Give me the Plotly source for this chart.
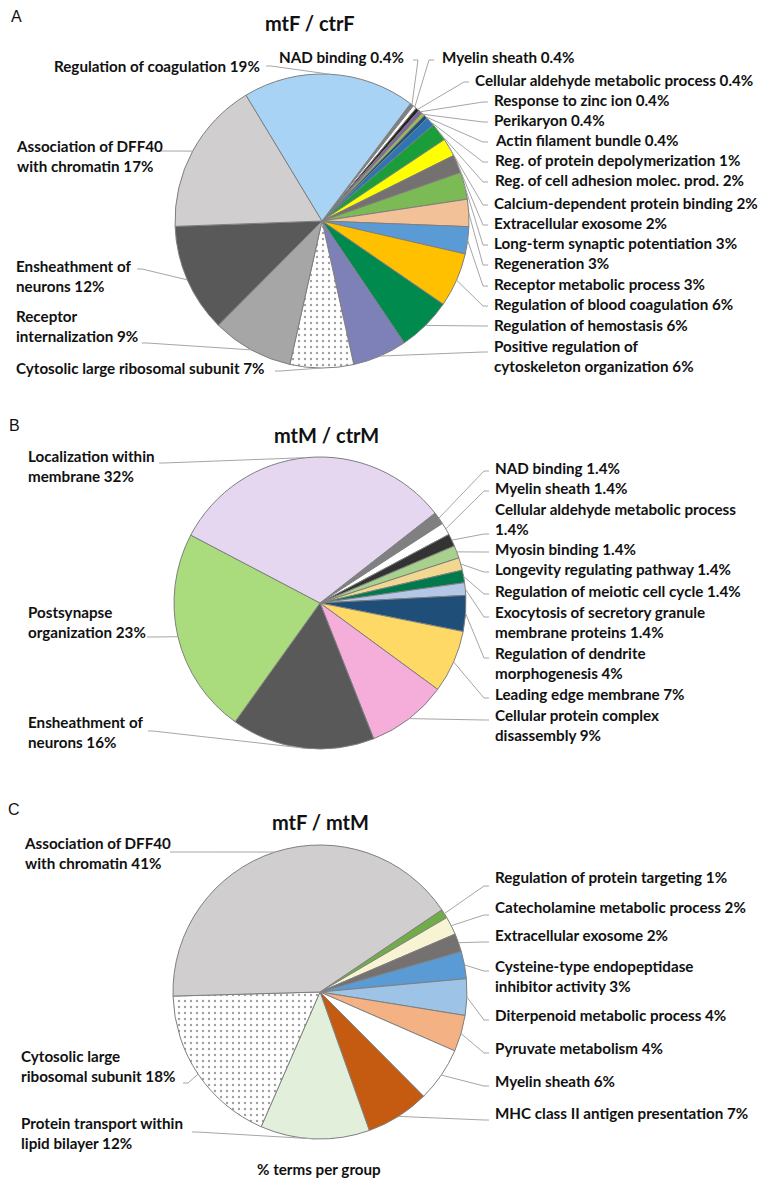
import math
import plotly.graph_objects as go

# The page body has an 8px margin, so the figure is drawn 8px in from the window corner.
OFF = 8
W, H = 767 - OFF, 1179 - OFF

# ---------------- Panel A: mtF / ctrF ----------------
a_names = ["NAD binding", "Myelin sheath", "Cellular aldehyde metabolic process",
           "Response to zinc ion", "Perikaryon", "Actin filament bundle",
           "Reg. of protein depolymerization", "Reg. of cell adhesion molec. prod.",
           "Calcium-dependent protein binding", "Extracellular exosome",
           "Long-term synaptic potentiation", "Regeneration", "Receptor metabolic process",
           "Regulation of blood coagulation", "Regulation of hemostasis",
           "Positive regulation of<br>cytoskeleton organization",
           "Cytosolic large ribosomal subunit", "Receptor<br>internalization",
           "Ensheathment of<br>neurons", "Association of DFF40<br>with chromatin",
           "Regulation of coagulation"]
a_values = [0.4, 0.4, 0.4, 0.4, 0.4, 0.4, 1, 2, 2, 2, 3, 3, 3, 6, 6, 6, 7, 9, 12, 17, 19]
a_colors = ["#7f7f7f", "#ffffff", "#262626", "#8064a2", "#9bbb59", "#1f4e79", "#2e75b6",
            "#1a9e3a", "#ffff00", "#767171", "#7cba55", "#f2c197", "#5b9bd5", "#ffc000",
            "#008a4e", "#7e80b8", "#ffffff", "#a6a6a6", "#595959", "#d0cece", "#a9d3f5"]
a_dotted = [False] * 16 + [True] + [False] * 4

# ---------------- Panel B: mtM / ctrM ----------------
b_names = ["NAD binding", "Myelin sheath", "Cellular aldehyde metabolic process<br>",
           "Myosin binding", "Longevity regulating pathway", "Regulation of meiotic cell cycle",
           "Exocytosis of secretory granule<br>membrane proteins",
           "Regulation of dendrite<br>morphogenesis", "Leading edge membrane",
           "Cellular protein complex<br>disassembly", "Ensheathment of<br>neurons",
           "Postsynapse<br>organization", "Localization within<br>membrane"]
b_values = [1.4, 1.4, 1.4, 1.4, 1.4, 1.4, 1.4, 4, 7, 9, 16, 23, 32]
b_colors = ["#808080", "#ffffff", "#333333", "#a9d18e", "#f0d890", "#007a4d", "#b4c7e7",
            "#1f4e79", "#ffd966", "#f5aed9", "#595959", "#aadc7e", "#e6d7f0"]
b_dotted = [False] * 13

# ---------------- Panel C: mtF / mtM ----------------
c_names = ["Regulation of protein targeting", "Catecholamine metabolic process",
           "Extracellular exosome", "Cysteine-type endopeptidase<br>inhibitor activity",
           "Diterpenoid metabolic process", "Pyruvate metabolism", "Myelin sheath",
           "MHC class II antigen presentation", "Protein transport within<br>lipid bilayer",
           "Cytosolic large<br>ribosomal subunit", "Association of DFF40<br>with chromatin"]
c_values = [1, 2, 2, 3, 4, 4, 6, 7, 12, 18, 41]
c_colors = ["#70ad47", "#f7f3d3", "#767171", "#5b9bd5", "#9dc3e6", "#f4b183", "#ffffff",
            "#c55a11", "#e2efda", "#ffffff", "#d0cece"]
c_dotted = [False] * 9 + [True, False]

titles = ["mtF / ctrF", "mtM / ctrM", "mtF / mtM"]
letters = ["A", "B", "C"]
x_title = "% terms per group"

# ---------------- layout (window pixel positions) ----------------
a_geo = dict(cx=322, cy=221, r=147, rot=37, title_xy=(310, 23), letter_xy=(16, 16))
a_lab = [(277, 57), (440, 57), (473, 80), (492, 100), (492, 120), (493, 140), (493, 160),
         (493, 180), (492, 203), (492, 223), (492, 243), (492, 263), (492, 284), (492, 304),
         (492, 325), (492, 356), (14, 368), (14, 326), (14, 276), (14, 156), (52, 66)]
a_att = [(413, 60), (434, 60), (469, 82), (488, 102), (488, 122), (488, 142), (488, 162),
         (488, 182), (488, 205), (488, 225), (488, 245), (488, 265), (488, 286), (488, 306),
         (488, 326), (488, 352), (275, 371), (142, 343), (137, 269), (160, 151), (266, 66)]

b_geo = dict(cx=320, cy=603, r=146, rot=52, title_xy=(326, 435), letter_xy=(14, 425))
b_lab = [(493, 468), (493, 488), (493, 519), (493, 549), (493, 569), (493, 591), (493, 622),
         (493, 663), (493, 694), (493, 725), (26, 732), (26, 622), (26, 466)]
b_att = [(489, 471), (489, 491), (489, 534), (489, 552), (489, 572), (489, 594), (489, 617),
         (489, 658), (489, 698), (489, 720), (148, 731), (147, 637), (159, 463)]

c_geo = dict(cx=320, cy=992, r=147, rot=56, title_xy=(320, 822), letter_xy=(14, 809))
c_lab = [(493, 877), (493, 907), (493, 935), (493, 976), (493, 1015), (493, 1048),
         (493, 1081), (493, 1113), (19, 1133), (19, 1066), (22, 853)]
c_att = [(489, 886), (489, 915), (489, 942), (489, 971), (489, 1020), (489, 1053),
         (489, 1086), (489, 1120), (192, 1132), (183, 1083), (170, 852)]
x_title_xy = (319, 1169)

LABEL_FONT = dict(family="Lato", size=15.2, color="#111111")
TITLE_FONT = dict(family="Lato", size=20, color="#111111")
LETTER_FONT = dict(family="Liberation Sans", size=16, color="#111111")
LEADER = dict(color="#a6a6a6", width=1)


def px(x):
    return (x - OFF) / W


def py(y):
    return 1 - (y - OFF) / H


def fmt(v):
    return ("%g" % v) + "%"


def bold(t):
    return "<b>" + t.replace("<br>", "</b><br><b>") + "</b>"


fig = go.Figure()
annotations = []
shapes = []


def add_panel(names, values, colors, dotted, geo, lab, att, title, letter):
    cx, cy, r, rot = geo["cx"], geo["cy"], geo["r"], geo["rot"]
    fig.add_trace(go.Pie(
        labels=[n.replace("<br>", " ") for n in names], values=values, sort=False,
        direction="clockwise", rotation=rot, textinfo="none", hoverinfo="label+value",
        showlegend=False,
        domain=dict(x=[px(cx - r), px(cx + r)], y=[py(cy + r), py(cy - r)]),
        marker=dict(colors=colors, line=dict(color="#7f7f7f", width=1),
                    pattern=dict(shape=["." if d else "" for d in dotted],
                                 fgcolor="#404040", size=6, solidity=0.12,
                                 fillmode="overlay")),
    ))
    total = sum(values)
    cum = 0.0
    for name, v, (lx, ly), (ax, ay) in zip(names, values, lab, att):
        mid = math.radians(rot + 360.0 * (cum + v / 2.0) / total)
        cum += v
        sx, sy = cx + r * math.sin(mid), cy - r * math.cos(mid)
        ex = ax + 5 if lx < ax else ax - 5
        shapes.append(dict(type="path", xref="paper", yref="paper",
                           path=f"M {px(sx)},{py(sy)} L {px(ex)},{py(ay)} L {px(ax)},{py(ay)}",
                           line=LEADER))
        text = name + fmt(v) if name.endswith("<br>") else name + " " + fmt(v)
        annotations.append(dict(text=bold(text), x=px(lx), y=py(ly), xref="paper",
                                yref="paper", xanchor="left", yanchor="middle", align="left",
                                showarrow=False, font=LABEL_FONT))
    tx, ty = geo["title_xy"]
    annotations.append(dict(text=bold(title), x=px(tx), y=py(ty), xref="paper",
                            yref="paper", xanchor="center", yanchor="middle",
                            showarrow=False, font=TITLE_FONT))
    lx, ly = geo["letter_xy"]
    annotations.append(dict(text=letter, x=px(lx), y=py(ly), xref="paper", yref="paper",
                            xanchor="center", yanchor="middle", showarrow=False,
                            font=LETTER_FONT))


add_panel(a_names, a_values, a_colors, a_dotted, a_geo, a_lab, a_att, titles[0], letters[0])
add_panel(b_names, b_values, b_colors, b_dotted, b_geo, b_lab, b_att, titles[1], letters[1])
add_panel(c_names, c_values, c_colors, c_dotted, c_geo, c_lab, c_att, titles[2], letters[2])

annotations.append(dict(text=bold(x_title), x=px(x_title_xy[0]), y=py(x_title_xy[1]),
                        xref="paper", yref="paper", xanchor="center", yanchor="middle",
                        showarrow=False, font=LABEL_FONT))

fig.update_layout(width=W, height=H, margin=dict(l=0, r=0, t=0, b=0),
                  paper_bgcolor="white", plot_bgcolor="white",
                  annotations=annotations, shapes=shapes)

fig.write_html("out.html")
